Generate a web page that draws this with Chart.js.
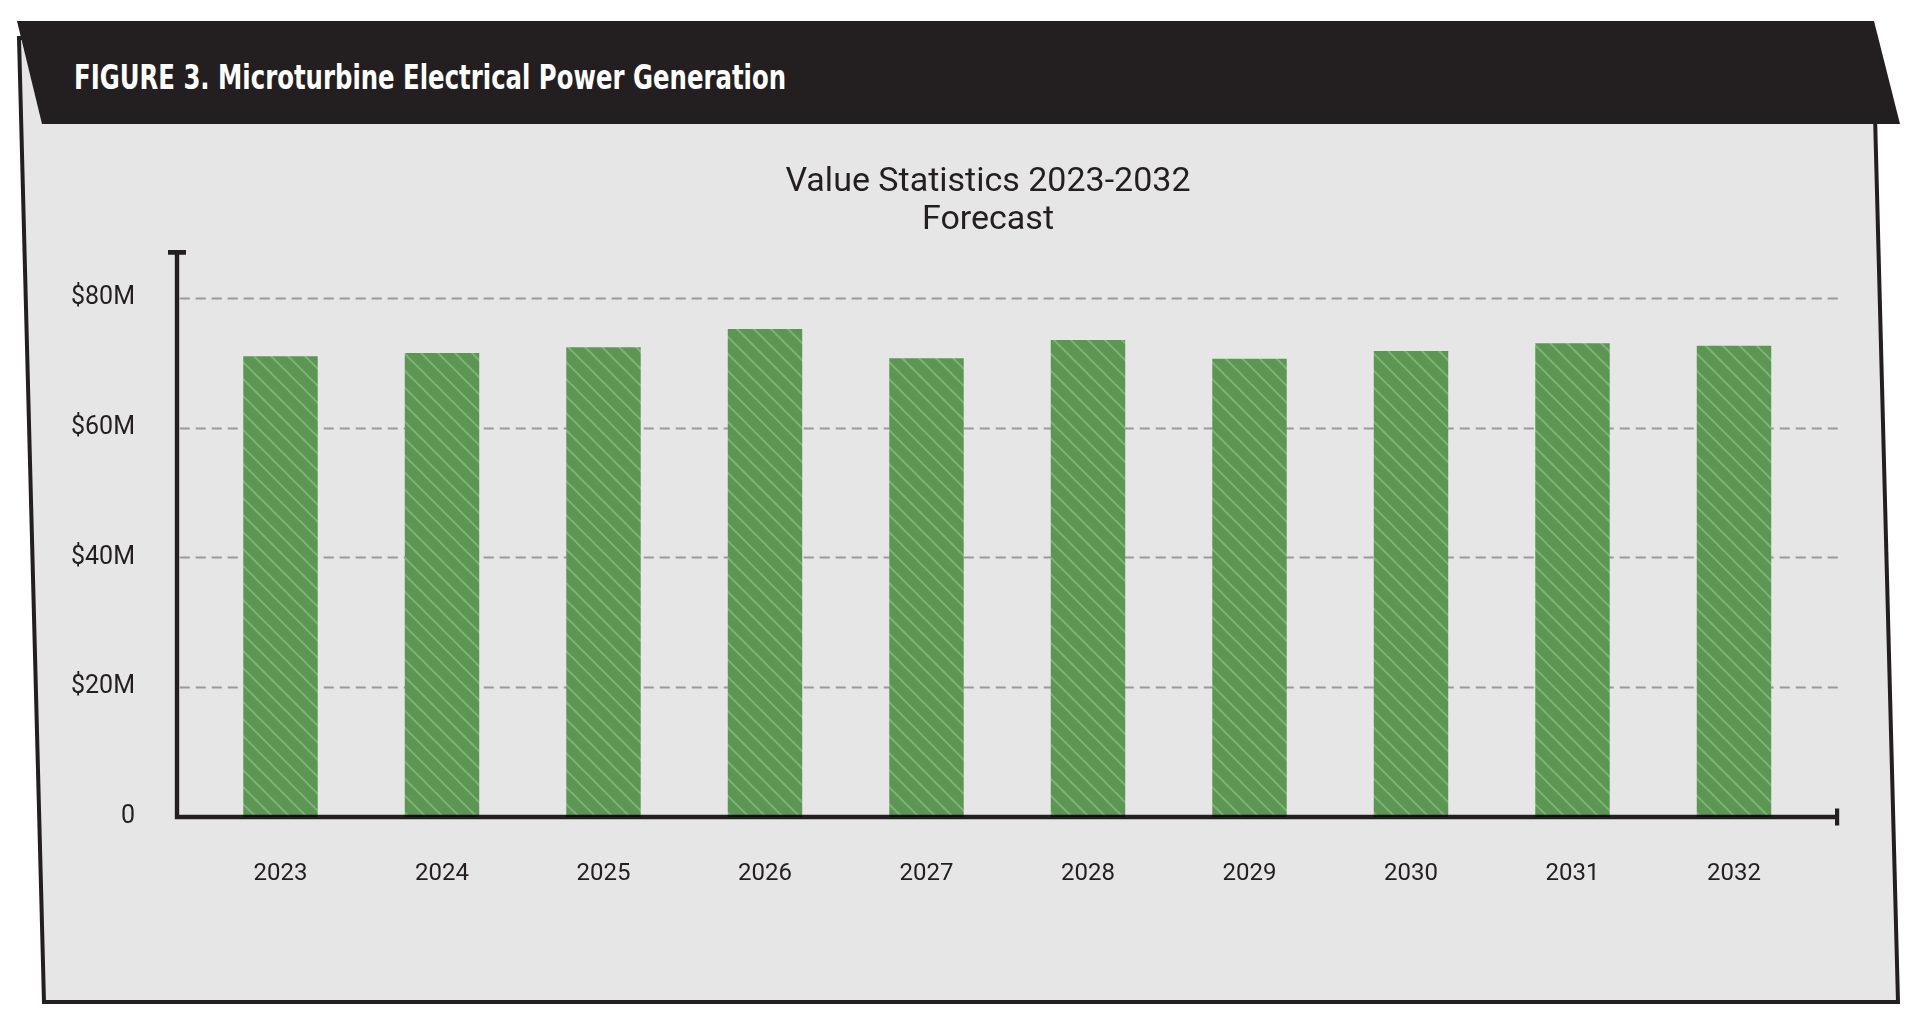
<!DOCTYPE html>
<html lang="en">
<head>
  <meta charset="UTF-8">
  <title>Microturbine Electrical Power Generation</title>
  <script src="https://cdn.jsdelivr.net/npm/chart.js"></script>
  <style>
    html, body { margin: 0; padding: 0; background: #fff; }
    body { width: 1930px; height: 1034px; position: relative; overflow: hidden; }

    /* Panel + black header band */
    #frame { position: absolute; left: 0; top: 0; }

    #figTitle {
      position: absolute;
      left: 74px;
      top: 57px;
      height: 40px;
      line-height: 40px;
      font-family: "DejaVu Sans Condensed", Roboto, sans-serif;
      font-weight: bold;
      font-size: 34px;
      color: #fff;
      white-space: nowrap;
      transform-origin: left center;
    }

    #chartBox { position: absolute; left: 0; top: 0; width: 1930px; height: 1034px; }
  </style>
</head>
<body>

  <svg id="frame" width="1930" height="1034">
    <polygon points="19,38 1873,38 1898,1002 44,1002" fill="#e6e6e6" stroke="#231f20" stroke-width="4"/>
    <polygon points="17,21 1874,21 1900,124 42,124" fill="#231f20"/>
  </svg>

  <div id="figTitle">FIGURE 3. Microturbine Electrical Power Generation</div>

  <div id="chartBox">
    <canvas id="valueChart"></canvas>
  </div>

  <script>
    // Data (values in $M)
    const years = ['2023', '2024', '2025', '2026', '2027', '2028', '2029', '2030', '2031', '2032'];
    const values = [71.0, 71.5, 72.4, 75.2, 70.7, 73.5, 70.6, 71.8, 73.0, 72.6];
    const yTicks = [0, 20, 40, 60, 80];
    const yTickLabels = ['0', '$20M', '$40M', '$60M', '$80M'];
    const yMax = 87;
    const titleLines = ['Value Statistics 2023-2032', 'Forecast'];

    const ink = '#231f20';
    const fontFamily = 'Roboto, "Noto Sans", sans-serif';
    const yFontSize = 25;

    // squeeze the header text to the width it has in the figure
    const figTitle = document.getElementById('figTitle');
    const figW = figTitle.getBoundingClientRect().width;
    figTitle.style.transform = 'scaleX(' + (712 / figW) + ')';

    // y labels are mirrored (so they are not clipped to the narrow axis box)
    // and pulled back left so their right edge sits at x = 135
    const probe = document.createElement('canvas').getContext('2d');
    probe.font = 'normal ' + yFontSize + 'px ' + fontFamily;
    const widestY = Math.max(...yTickLabels.map(s => probe.measureText(s).width));

    // green fill with light diagonal hatch
    function stripePattern() {
      const s = 17;
      const c = document.createElement('canvas');
      c.width = s;
      c.height = s;
      const g = c.getContext('2d');
      g.fillStyle = '#5b9752';
      g.fillRect(0, 0, s, s);
      g.strokeStyle = '#7db274';
      g.lineWidth = 2;
      g.beginPath();
      g.moveTo(-2, -2); g.lineTo(s + 2, s + 2);
      g.moveTo(-2, s - 2); g.lineTo(2, s + 2);
      g.moveTo(s - 2, -2); g.lineTo(s + 2, 2);
      g.stroke();
      return g.createPattern(c, 'repeat');
    }

    // dashed grid behind the bars, heavy axes with end caps on top
    const axisFrame = {
      id: 'axisFrame',
      beforeDatasetsDraw(chart) {
        const { ctx, chartArea: a, scales: { y } } = chart;
        ctx.save();
        ctx.strokeStyle = '#999999';
        ctx.lineWidth = 2;
        ctx.setLineDash([10, 6]);
        yTicks.forEach(v => {
          if (v === 0) return;
          const py = Math.round(y.getPixelForValue(v)) + 0.5;
          ctx.beginPath();
          ctx.moveTo(a.left - 20, py);
          ctx.lineTo(a.right + 28, py);
          ctx.stroke();
        });
        ctx.restore();
      },
      afterDatasetsDraw(chart) {
        const { ctx, chartArea: a, scales: { y } } = chart;
        const x0 = a.left - 22.75;
        const x1 = a.right + 22.25;
        const y0 = y.getPixelForValue(0);
        const yTop = y.getPixelForValue(yMax);
        ctx.save();
        ctx.globalCompositeOperation = 'multiply';
        ctx.fillStyle = ink;
        ctx.beginPath();
        ctx.rect(x0 - 2.2, y0 - 2.3, x1 - x0 + 2.2, 4.6);   // x axis
        ctx.rect(x1 - 2, y0 - 8.5, 4.2, 17);               // right cap
        ctx.rect(x0 - 2.2, yTop, 4.4, y0 - yTop);          // y axis
        ctx.rect(x0 - 9, yTop - 2.3, 18, 4.6);             // top cap
        ctx.fill('nonzero');
        ctx.restore();
      }
    };

    const ctx = document.getElementById('valueChart').getContext('2d');
    const valueChart = new Chart(ctx, {
      type: 'bar',
      data: {
        labels: years,
        datasets: [{
          label: 'Value',
          data: values,
          backgroundColor: stripePattern(),
          borderWidth: 0,
          barPercentage: 0.461,
          categoryPercentage: 1
        }]
      },
      options: {
        responsive: true,
        maintainAspectRatio: false,
        animation: false,
        layout: {
          padding: { left: 161.25, right: 115.25, top: 163, bottom: 103 }
        },
        plugins: {
          legend: { display: false },
          tooltip: { enabled: false },
          title: {
            display: true,
            text: titleLines,
            color: ink,
            font: { family: fontFamily, size: 34, weight: 'normal', lineHeight: 1.118 },
            padding: { top: 0, bottom: 13.4 }
          }
        },
        scales: {
          x: {
            offset: true,
            grid: { display: false, drawTicks: false },
            border: { display: false },
            ticks: {
              color: ink,
              font: { family: fontFamily, size: 24 },
              padding: 42.6,
              maxRotation: 0
            }
          },
          y: {
            min: 0,
            max: yMax,
            grid: { display: false, drawTicks: false },
            border: { display: false },
            afterFit: scale => {
              scale.width = 38.5;
            },
            ticks: {
              stepSize: 20,
              autoSkip: false,
              mirror: true,
              crossAlign: 'far',
              color: ink,
              font: { family: fontFamily, size: yFontSize },
              padding: -64.75 - widestY,
              callback: value => {
                const i = yTicks.indexOf(value);
                return i >= 0 ? yTickLabels[i] : null;
              }
            }
          }
        }
      },
      plugins: [axisFrame]
    });
  </script>
</body>
</html>
